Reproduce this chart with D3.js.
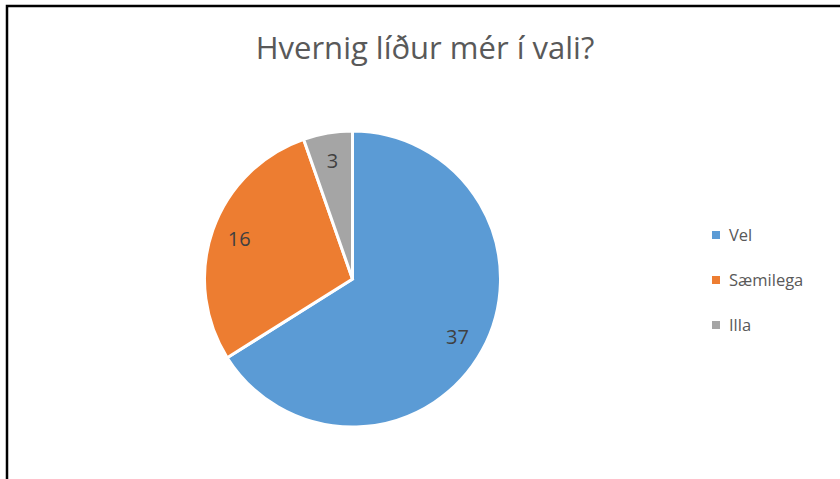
<!DOCTYPE html>
<html>
<head>
<meta charset="utf-8">
<script src="https://cdn.jsdelivr.net/npm/d3@7"></script>
<style>
  body { margin: 0; background: #fff; overflow: hidden; }
  svg { display: block; font-family: "Open Sans", sans-serif; }
</style>
</head>
<body>
<svg></svg>
<script>
var WIDTH = 840;
var HEIGHT = 479;

var categories = ["Vel", "Sæmilega", "Illa"];
var values = [37, 16, 3];
var colors = ["#5B9BD5", "#ED7D31", "#A5A5A5"];

var svg = d3.select("svg")
    .attr("width", WIDTH)
    .attr("height", HEIGHT);

// frame, only the top and left edges are inside the picture
svg.append("rect")
    .attr("x", 7).attr("y", 6)
    .attr("width", WIDTH + 10).attr("height", HEIGHT + 10)
    .attr("fill", "#fff")
    .attr("stroke", "#000")
    .attr("stroke-width", 2.5);

svg.append("text")
    .attr("x", 425).attr("y", 59)
    .attr("text-anchor", "middle")
    .attr("fill", "#595959")
    .style("font-size", "31px")
    .text("Hvernig líður mér í vali?");

var data = categories.map(function(c, i) { return {name: c, value: values[i]}; });

var pie = d3.pie().sort(null).value(function(d) { return d.value; });
var arc = d3.arc().innerRadius(0).outerRadius(148);
var labelArc = d3.arc().innerRadius(120).outerRadius(120);
var color = d3.scaleOrdinal().domain(categories).range(colors);

var g = svg.append("g").attr("transform", "translate(352.5,279)");

g.selectAll("path")
    .data(pie(data))
    .enter()
    .append("path")
    .attr("d", arc)
    .attr("fill", function(d) { return color(d.data.name); })
    .attr("stroke", "#fff")
    .attr("stroke-width", 3)
    .attr("stroke-linejoin", "miter");

g.selectAll("text")
    .data(pie(data))
    .enter()
    .append("text")
    .attr("transform", function(d) { return "translate(" + labelArc.centroid(d) + ")"; })
    .attr("text-anchor", "middle")
    .attr("dy", "0.35em")
    .attr("fill", "#404040")
    .style("font-size", "20px")
    .text(function(d) { return d.data.value; });

var legend = svg.append("g").attr("transform", "translate(712,235)");
var rows = legend.selectAll("g")
    .data(categories)
    .enter()
    .append("g")
    .attr("transform", function(d, i) { return "translate(0," + i * 45 + ")"; });

rows.append("rect")
    .attr("x", 0).attr("y", -4)
    .attr("width", 8).attr("height", 8)
    .attr("fill", function(d) { return color(d); });

rows.append("text")
    .attr("x", 17).attr("y", 0)
    .attr("dy", "0.35em")
    .attr("fill", "#595959")
    .style("font-size", "16.5px")
    .text(function(d) { return d; });
</script>
</body>
</html>
